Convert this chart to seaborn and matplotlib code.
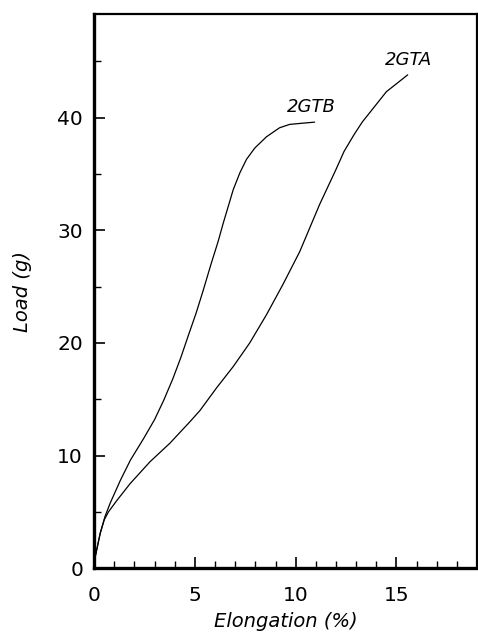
import matplotlib
matplotlib.use("Agg")
import matplotlib.pyplot as plt
import seaborn as sns
import pandas as pd
from matplotlib.ticker import MultipleLocator

# curve readings (elongation %, load g)
gtb_elong = [0, 0.05, 0.3, 0.54, 0.8, 1.3, 1.8, 2.45, 3.0, 3.45, 3.9, 4.3, 4.7,
             5.05, 5.4, 5.8, 6.15, 6.4, 6.65, 6.9, 7.23, 7.56, 7.97, 8.55, 9.2,
             9.7, 10.3, 10.94]
gtb_load = [0, 1.0, 3.1, 4.6, 5.8, 7.8, 9.6, 11.5, 13.2, 14.9, 16.8, 18.7, 20.8,
            22.6, 24.6, 27.0, 29.0, 30.6, 32.1, 33.6, 35.1, 36.3, 37.3, 38.3, 39.1,
            39.4, 39.5, 39.6]

gta_elong = [0, 0.05, 0.3, 0.5, 0.71, 1.12, 1.78, 2.77, 3.76, 4.75, 5.25, 6.07,
             6.9, 7.72, 8.55, 9.37, 10.2, 10.86, 11.19, 12.0, 12.4, 12.9, 13.3,
             13.7, 14.5, 15.56]
gta_load = [0, 1.0, 3.1, 4.3, 5.0, 6.0, 7.5, 9.45, 11.1, 13.0, 14.0, 16.0,
            17.9, 20.0, 22.5, 25.2, 28.1, 30.9, 32.3, 35.4, 37.0, 38.5, 39.6,
            40.5, 42.3, 43.8]

sns.set_style("white")
plt.rcParams['font.family'] = ['DejaVu Sans']
plt.rcParams['text.color'] = 'black'
plt.rcParams['axes.labelcolor'] = 'black'

df = pd.concat([
    pd.DataFrame({"elong": gtb_elong, "load": gtb_load, "sample": "2GTB"}),
    pd.DataFrame({"elong": gta_elong, "load": gta_load, "sample": "2GTA"}),
])

fig = plt.figure(figsize=(4.78, 6.37), dpi=100)
ax = fig.add_axes([0.197, 0.108, 0.801, 0.870])

sns.lineplot(data=df, x="elong", y="load", units="sample", estimator=None,
             sort=False, color="black", linewidth=0.9, ax=ax, legend=False)

ax.set_xlim(0, 19)
ax.set_ylim(0, 49.2)
ax.xaxis.set_major_locator(MultipleLocator(5))
ax.xaxis.set_minor_locator(MultipleLocator(1))
ax.yaxis.set_major_locator(MultipleLocator(10))
ax.yaxis.set_minor_locator(MultipleLocator(5))
ax.tick_params(which="both", direction="in", colors="black", labelsize=14.5,
               bottom=True, left=True)
ax.tick_params(which="major", length=8, width=1.2)
ax.tick_params(which="minor", length=5, width=1.0)
ax.tick_params(axis="x", which="major", pad=13)
ax.tick_params(axis="y", which="major", pad=8)

for side in ["left", "bottom"]:
    ax.spines[side].set_linewidth(2.4)
for side in ["top", "right"]:
    ax.spines[side].set_linewidth(1.6)
for sp in ax.spines.values():
    sp.set_color("black")

ax.set_xlabel("Elongation (%)", fontsize=14, style="italic", labelpad=5)
ax.set_ylabel("Load (g)", fontsize=14, style="italic", labelpad=18)

ax.text(10.8, 40.5, "2GTB", fontsize=13, style="italic", ha="center", va="baseline")
ax.text(15.6, 44.7, "2GTA", fontsize=13, style="italic", ha="center", va="baseline")

fig.savefig("out.png", dpi=100)
